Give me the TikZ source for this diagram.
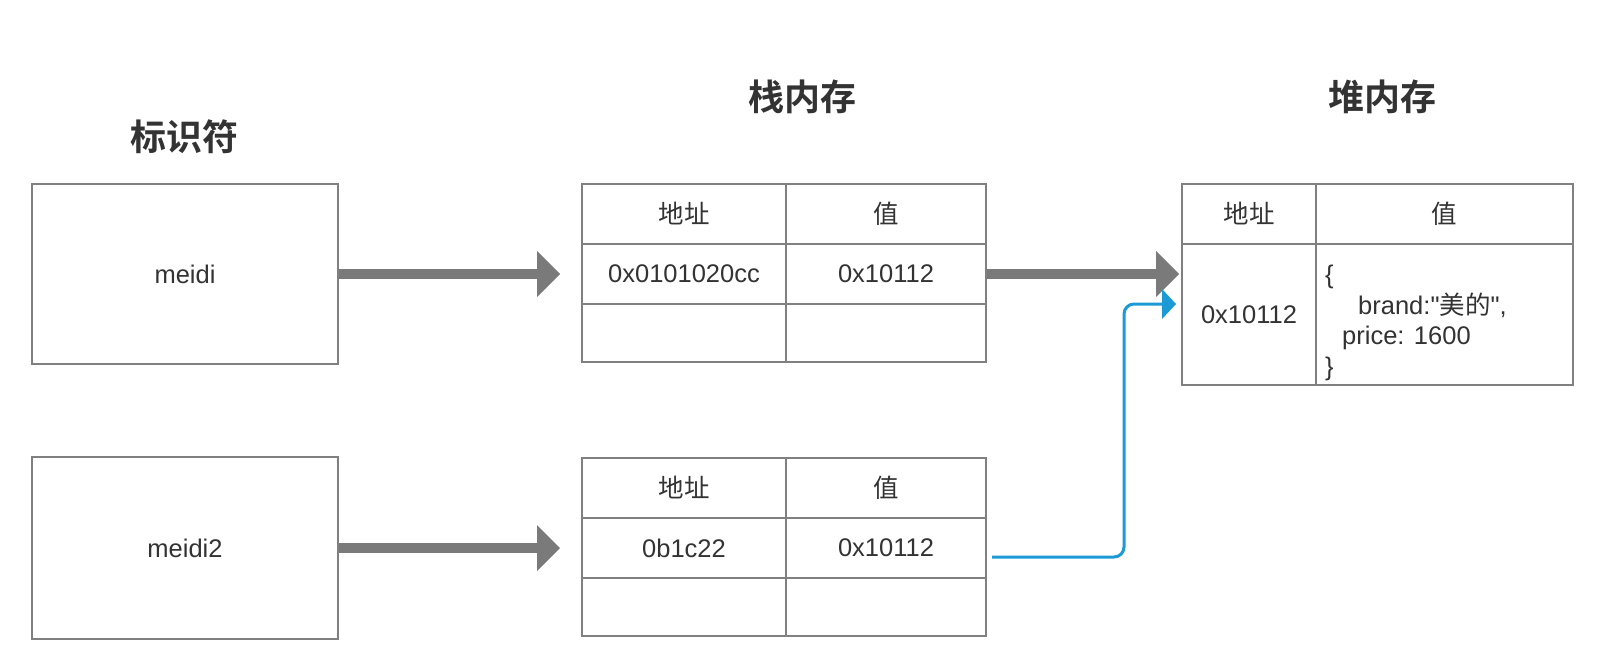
\documentclass[tikz,border=0pt]{standalone}
\usepackage{fontspec}
\newfontfamily\lat{Liberation Sans}
\setmainfont{Liberation Sans}
\newfontfamily\cjk{Noto Sans CJK SC}[BoldFont={Noto Sans CJK SC Bold}]
\usetikzlibrary{arrows.meta}
\definecolor{linegray}{RGB}{128,128,128}
\definecolor{arrowgray}{RGB}{122,122,122}
\definecolor{txt}{RGB}{51,51,51}
\definecolor{bluel}{RGB}{27,154,214}
\begin{document}
\begin{tikzpicture}[x=1pt,y=-1pt,
  cell/.style={draw=linegray, line width=2pt, anchor=north west, inner sep=0pt, text=txt, font=\lat\fontsize{25.5}{30}\selectfont},
  title/.style={text=txt, font=\cjk\bfseries\fontsize{36}{40}\selectfont, inner sep=0pt},
  bigarrow/.style={draw=arrowgray, line width=10pt, -{Triangle[length=23pt,width=46pt,line width=0pt]}},
  link/.style={draw=bluel, line width=3pt, rounded corners=10pt, -{Triangle[length=14pt,width=30pt,line width=0pt]}}]
\fill[white] (0,0) rectangle (1604,664);
\useasboundingbox (0,0) rectangle (1604,664);
% titles
\node[title] (t1) at (184,137) {标识符};
\node[title] (t2) at (802,97) {栈内存};
\node[title] (t3) at (1382,97) {堆内存};
% identifier boxes
\node[cell, minimum width=306pt, minimum height=180pt] (id1) at (31,183) {meidi};
\node[cell, minimum width=306pt, minimum height=182pt] (id2) at (31,456) {meidi2};
% stack table 1
\node[cell, minimum width=204pt, minimum height=60pt] (s1h1) at (581,183) {\cjk 地址};
\node[cell, minimum width=200pt, minimum height=60pt] (s1h2) at (785,183) {\cjk 值};
\node[cell, minimum width=204pt, minimum height=60pt] (s1a) at (581,243) {0x0101020cc};
\node[cell, minimum width=200pt, minimum height=60pt] (s1b) at (785,243) {0x10112};
\node[cell, minimum width=204pt, minimum height=58pt] (s1c) at (581,303) {};
\node[cell, minimum width=200pt, minimum height=58pt] (s1d) at (785,303) {};
% stack table 2
\node[cell, minimum width=204pt, minimum height=60pt] (s2h1) at (581,457) {\cjk 地址};
\node[cell, minimum width=200pt, minimum height=60pt] (s2h2) at (785,457) {\cjk 值};
\node[cell, minimum width=204pt, minimum height=60pt] (s2a) at (581,517) {0b1c22};
\node[cell, minimum width=200pt, minimum height=60pt] (s2b) at (785,517) {0x10112};
\node[cell, minimum width=204pt, minimum height=58pt] (s2c) at (581,577) {};
\node[cell, minimum width=200pt, minimum height=58pt] (s2d) at (785,577) {};
% heap table
\node[cell, minimum width=134pt, minimum height=60pt] (hh1) at (1181,183) {\cjk 地址};
\node[cell, minimum width=257pt, minimum height=60pt] (hh2) at (1315,183) {\cjk 值};
\node[cell, minimum width=134pt, minimum height=141pt] (h1a) at (1181,243) {0x10112};
\node[cell, minimum width=257pt, minimum height=141pt] (h1b) at (1315,243) {};
\node[anchor=north west, inner sep=0pt, align=left, text=txt, font=\lat\fontsize{25.5}{30.5}\selectfont] (hval) at (1325,265)
  {\{\\\hspace*{33pt}brand:"{\cjk 美的}",\\\hspace*{17pt}price: 1600\\\}};
% connectors
\draw[bigarrow, shorten >=21pt] (id1.east) -- (id1.east -| s1a.west);
\draw[bigarrow, shorten >=21pt] (id2.east) -- (id2.east -| s2a.west);
\draw[bigarrow, shorten >=2pt] (s1b.east) -- (s1b.east -| h1a.west);
\coordinate (bstart) at ([xshift=5pt,yshift=-9pt]s2b.east);
\coordinate (btip) at ([xshift=-5pt,yshift=10.5pt]h1a.west);
\draw[link] (bstart) -| ([xshift=-52pt]btip) -- (btip);
\end{tikzpicture}
\end{document}
